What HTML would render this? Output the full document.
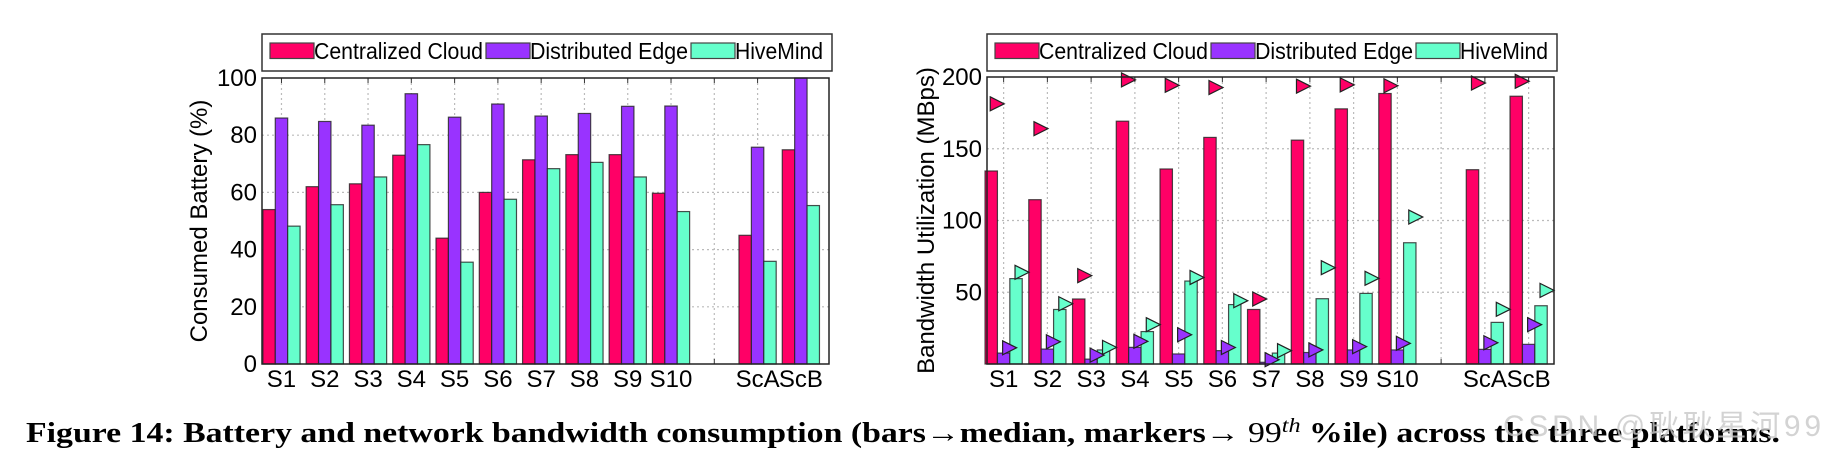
<!DOCTYPE html>
<html><head><meta charset="utf-8">
<style>
html,body{margin:0;padding:0;background:#fff;}
svg{display:block;font-family:"Liberation Sans",Arial,sans-serif;}
</style></head>
<body>
<svg id="fig" width="1825" height="461" viewBox="0 0 1825 461" xmlns="http://www.w3.org/2000/svg">
<g id="left"></g>
<g id="right"></g>
<text x="26" y="442" font-family="'Liberation Serif',serif" font-weight="bold" font-size="28" textLength="1754" lengthAdjust="spacingAndGlyphs">Figure 14:  Battery and network bandwidth consumption (bars→median, markers→ <tspan font-weight="normal">99</tspan><tspan font-weight="normal" font-style="italic" dy="-10" font-size="20">th</tspan><tspan dy="10"> %ile) across the three platforms.</tspan></text>
<text x="1503" y="436" font-family="'Liberation Sans','Noto Sans CJK SC',sans-serif" font-size="30" fill="#c8c8c8" fill-opacity="0.8" textLength="318">CSDN @耿耿星河99</text>
</svg>
<script>
const categories = ["S1","S2","S3","S4","S5","S6","S7","S8","S9","S10","","ScA","ScB"];
const seriesNames = ["Centralized Cloud","Distributed Edge","HiveMind"];
const batteryCloud = [54,62,63,73,44,60,71.4,73.2,73.2,59.7,null,45,74.9];
const batteryEdge = [86,84.8,83.5,94.5,86.3,90.9,86.7,87.6,90.1,90.2,null,75.8,100];
const batteryHive = [48.2,55.7,65.4,76.7,35.6,57.6,68.3,70.5,65.4,53.3,null,35.9,55.4];
const bwCloud = [134.5,114.5,45.3,169.2,135.9,157.9,38,156,177.8,188.5,null,135.4,186.6];
const bwEdge = [7.6,10.4,3.4,11.6,7,9.3,1.2,8,9.8,9.8,null,10.2,13.7];
const bwHive = [59.5,38,9.8,22.6,57.8,41.4,7.6,45.5,49.2,84.5,null,29,40.6];
const p99Cloud = [181.3,164,61.6,198,194.2,192.7,45.3,193.6,194.5,193.9,null,195.8,197];
const p99Edge = [11.3,15.5,6.2,15.8,20.4,11.5,3,9.8,12.1,14.4,null,14.8,27.4];
const p99Hive = [63.9,42,11.6,27.4,60.3,44.1,9.3,67.1,59.7,102.4,null,38.1,51.3];
const batteryTicks = [0,20,40,60,80,100];
const bwTicks = [50,100,150,200];

const NS="http://www.w3.org/2000/svg";
const colors=["#ff0066","#9933ff","#66ffcc"];
function mk(parent,tag,attrs,txt){const e=document.createElementNS(NS,tag);for(const k in attrs)e.setAttribute(k,attrs[k]);if(txt!==undefined)e.textContent=txt;parent.appendChild(e);return e;}

function drawChart(g,cfg){
  const {x0,x1,y0,y1,xmin,xmax,ymin,ymax}=cfg;
  const sx=v=>x0+(v-xmin)/(xmax-xmin)*(x1-x0);
  const sy=v=>y1-(v-ymin)/(ymax-ymin)*(y1-y0);
  mk(g,'rect',{x:x0,y:y0,width:x1-x0,height:y1-y0,fill:'#fff'});
  cfg.ticks.forEach(t=>{ if(t>ymin&&t<ymax){
    const l=mk(g,'line',{x1:x0,x2:x1,y1:sy(t),y2:sy(t),stroke:'#bbb','stroke-dasharray':'2,3','stroke-width':1.2});
    
    }
    const tl=mk(g,'text',{x:x0-5,y:sy(t)+8,'text-anchor':'end','font-size':24},String(t));
    
    
  });
  categories.forEach((c,i)=>{
    const x=sx(i+1);
    const l=mk(g,'line',{x1:x,x2:x,y1:y0,y2:y1,stroke:'#bbb','stroke-dasharray':'2,3','stroke-width':1.2});
    
    
    mk(g,'line',{x1:x,x2:x,y1:y0,y2:y0+5,stroke:'#333'});
    mk(g,'line',{x1:x,x2:x,y1:y1,y2:y1-5,stroke:'#333'});
    if(c){const t=mk(g,'text',{x:x,y:y1+23,'text-anchor':'middle','font-size':24},c);
      
      }
  });
  const bw=12.4;
  cfg.bars.forEach((arr,s)=>{
    arr.forEach((v,i)=>{ if(v===null)return;
      const cx=sx(i+1)+(s-1)*bw;
      const top=Math.max(sy(v),y0);
      const r=mk(g,'rect',{x:cx-bw/2,y:top,width:bw,height:y1-top,fill:colors[s],stroke:'#222','stroke-width':1.2,'stroke-opacity':0.8});
      
      
    });
  });
  (cfg.markers||[]).forEach((arr,s)=>{
    arr.forEach((v,i)=>{ if(v===null)return;
      const cx=sx(i+1)+(s-1)*bw+5;
      const cy=Math.max(sy(v),y0+2);
      const p=mk(g,'polygon',{points:`${cx-6},${cy-7} ${cx+8},${cy} ${cx-6},${cy+7}`,fill:colors[s],stroke:'#222','stroke-width':1.2});
      
      
    });
  });
  mk(g,'rect',{x:x0,y:y0,width:x1-x0,height:y1-y0,fill:'none',stroke:'#222','stroke-width':1.5});
  const lg=mk(g,'g',{});
  
  
  mk(lg,'rect',{x:cfg.lx0,y:34,width:cfg.lx1-cfg.lx0,height:37,fill:'#fff',stroke:'#333','stroke-width':1.5});
  let lx=cfg.lx0+8;
  const tw=[169,158,88];
  seriesNames.forEach((n,s)=>{
    const e=mk(lg,'g',{});
    
    
    mk(e,'rect',{x:lx,y:43,width:44,height:15.5,fill:colors[s],stroke:'#444','stroke-width':1.2});
    mk(e,'text',{x:lx+44,y:59,'font-size':23,textLength:tw[s],lengthAdjust:'spacingAndGlyphs'},n);
    lx+=44+tw[s]+3;
  });
  const yl=mk(g,'text',{transform:`translate(${cfg.ylx},${(y0+y1)/2}) rotate(-90)`,'text-anchor':'middle','font-size':24},cfg.ylabel);
  
  
}

drawChart(document.getElementById('left'),{x0:262,x1:829,y0:78,y1:364,xmin:0.55,xmax:13.65,ymin:0,ymax:100,
  ticks:batteryTicks,bars:[batteryCloud,batteryEdge,batteryHive],lx0:262,lx1:832,ylx:207,ylabel:"Consumed Battery (%)"});
drawChart(document.getElementById('right'),{x0:987,x1:1554,y0:77,y1:364,xmin:0.62,xmax:13.58,ymin:0,ymax:200,
  ticks:bwTicks,bars:[bwCloud,bwEdge,bwHive],markers:[p99Cloud,p99Edge,p99Hive],lx0:987,lx1:1557,ylx:934,ylabel:"Bandwidth Utilization (MBps)"});
</script>
</body></html>
